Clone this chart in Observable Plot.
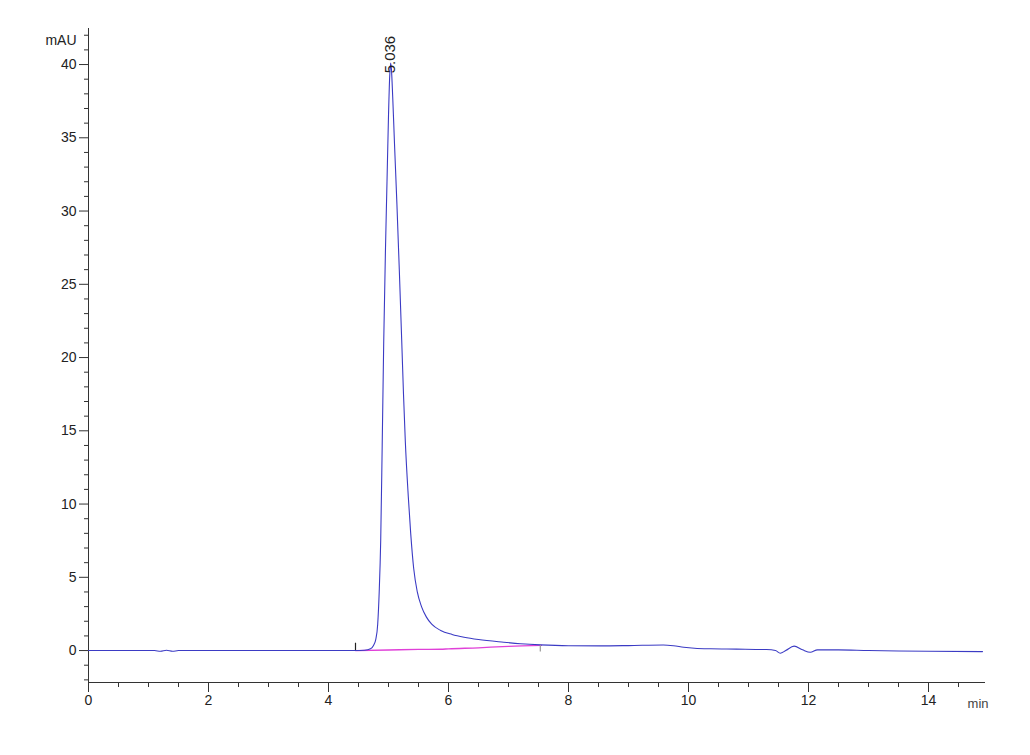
<!DOCTYPE html>
<html>
<head>
<meta charset="utf-8">
<script src="https://cdn.jsdelivr.net/npm/d3@7"></script>
<script src="https://cdn.jsdelivr.net/npm/@observablehq/plot@0.6"></script>
<style>
  html, body { margin: 0; padding: 0; background: #fff; }
  #chart svg { display: block; }
</style>
</head>
<body>
<div id="chart"></div>
<script>
// Signal trace (time in min, absorbance in mAU)
const signalTime = [0, 1.1, 1.2, 1.3, 1.4, 1.5, 4.0, 4.45, 4.6, 4.70, 4.75, 4.79, 4.82, 4.845, 4.87, 4.895, 4.92, 4.95, 4.975, 5.00, 5.02, 5.036, 5.05, 5.07, 5.10, 5.14, 5.18, 5.22, 5.25, 5.28, 5.33, 5.37, 5.42, 5.48, 5.55, 5.63, 5.72, 5.87, 6.06, 6.26, 6.5, 6.92, 7.2, 7.53, 8.0, 8.53, 9.0, 9.58, 9.75, 9.92, 10.1, 10.37, 10.8, 11.3, 11.45, 11.53, 11.62, 11.76, 11.9, 12.03, 12.15, 12.5, 13.0, 13.5, 14.0, 14.9];
const signalValue = [0, 0, -0.05, 0.02, -0.05, 0, 0, 0, 0.02, 0.12, 0.35, 0.8, 1.8, 4, 7.5, 14, 21, 27.5, 32, 36.5, 39.2, 40.1, 39.6, 37.8, 34.6, 30.5, 26, 21.2, 17.5, 14.3, 10.5, 8.0, 5.6, 4.0, 3.0, 2.3, 1.8, 1.37, 1.1, 0.91, 0.75, 0.57, 0.47, 0.39, 0.33, 0.32, 0.34, 0.38, 0.33, 0.23, 0.16, 0.12, 0.1, 0.07, 0.0, -0.18, 0.0, 0.3, 0.05, -0.12, 0.05, 0.05, 0.0, -0.03, -0.05, -0.07];

// Integration baseline
const baseTime = [4.45, 5.0, 5.5, 5.87, 6.0, 6.5, 6.7, 7.0, 7.55];
const baseValue = [0, 0.04, 0.08, 0.09, 0.12, 0.19, 0.23, 0.29, 0.36];

// Peak annotation
const peakTimes = [5.036];
const peakLabels = ["5.036"];
const peakLabelValue = [39.4];

// Integration event markers
const eventTime = [4.45, 7.53];
const eventLow = [0, -0.1];
const eventHigh = [0.5, 0.35];
const eventColor = ["#222", "#999"];

// Axes
const xDomain = [0, 14.95];
const yDomain = [-2.18, 42.46];
const xMajorTicks = [0, 2, 4, 6, 8, 10, 12, 14];
const xMinorTicks = d3.range(0.5, 14.95, 0.5).filter(v => v % 2 !== 0);
const yMajorTicks = [0, 5, 10, 15, 20, 25, 30, 35, 40];
const yMinorTicks = d3.range(-2, 43, 1).filter(v => v % 5 !== 0);
const yUnit = "mAU";
const xUnit = "min";

const signal = signalTime.map((t, i) => ({t, v: signalValue[i]}));
const base = baseTime.map((t, i) => ({t, v: baseValue[i]}));
const peaks = peakTimes.map((t, i) => ({t, v: peakLabelValue[i], label: peakLabels[i]}));
const events = eventTime.map((t, i) => ({t, y1: eventLow[i], y2: eventHigh[i], c: eventColor[i]}));

const axisColor = "#333";
const chart = Plot.plot({
  width: 1030,
  height: 755,
  marginLeft: 88,
  marginRight: 45,
  marginTop: 28,
  marginBottom: 73,
  style: {fontFamily: "'Liberation Sans', Arial, sans-serif", fontSize: "14px", color: "#222", background: "#fff"},
  x: {domain: xDomain, axis: null, label: null},
  y: {domain: yDomain, axis: null, label: null},
  marks: [
    // axis lines
    Plot.ruleX([xDomain[0]], {y1: yDomain[0], y2: yDomain[1], stroke: axisColor}),
    Plot.ruleY([yDomain[0]], {x1: xDomain[0], x2: xDomain[1], stroke: axisColor}),
    // x axis ticks
    Plot.axisX(xMajorTicks, {anchor: "bottom", label: null, tickSize: 10, tickPadding: 3, fontSize: 14, stroke: axisColor, fill: "#222"}),
    Plot.axisX(xMinorTicks, {anchor: "bottom", label: null, tickSize: 5, tickFormat: () => "", stroke: axisColor}),
    // y axis ticks
    Plot.axisY(yMajorTicks, {anchor: "left", label: null, tickSize: 9, tickPadding: 3, fontSize: 14, stroke: axisColor, fill: "#222"}),
    Plot.axisY(yMinorTicks, {anchor: "left", label: null, tickSize: 4, tickFormat: () => "", stroke: axisColor}),
    // unit labels
    Plot.text([yUnit], {x: xDomain[0], y: 41.64, text: d => d, dx: -12, textAnchor: "end", fontSize: 14, fill: "#222"}),
    Plot.text([xUnit], {x: xDomain[1], y: yDomain[0], text: d => d, dx: 3, dy: 21, textAnchor: "end", fontSize: 13, fill: "#444"}),
    // baseline
    Plot.line(base, {x: "t", y: "v", stroke: "#e040d8", strokeWidth: 1.3, curve: "monotone-x"}),
    // signal
    Plot.line(signal, {x: "t", y: "v", stroke: "#3b3bc4", strokeWidth: 1.1, curve: "monotone-x"}),
    // event markers
    Plot.ruleX(events, {x: "t", y1: "y1", y2: "y2", stroke: "c", strokeWidth: 1.2}),
    // peak label
    Plot.text(peaks, {x: "t", y: "v", text: "label", rotate: -90, textAnchor: "start", fontSize: 15, fill: "#222"})
  ]
});
document.getElementById("chart").appendChild(chart);
</script>
</body>
</html>
